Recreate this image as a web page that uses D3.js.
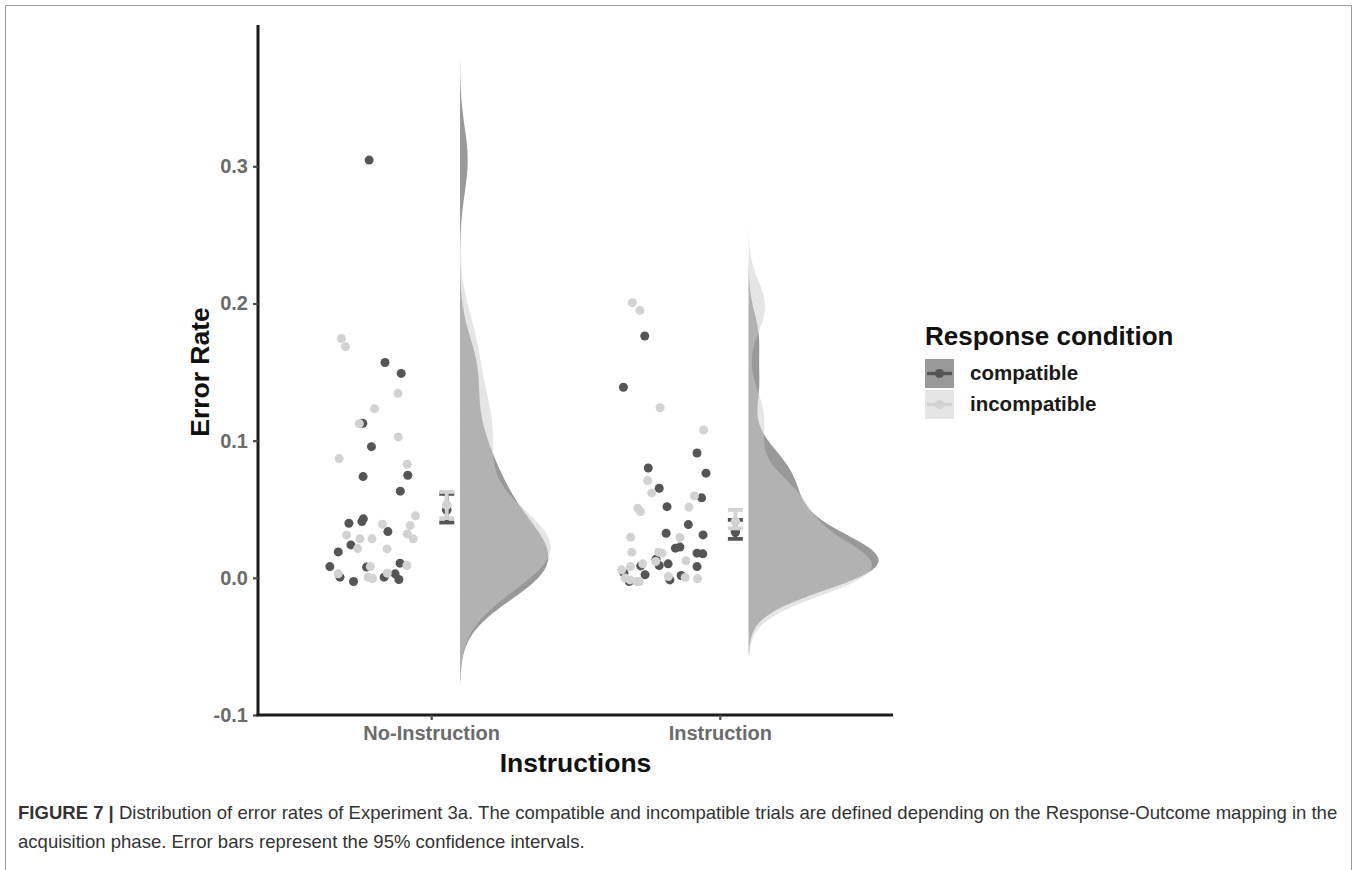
<!DOCTYPE html>
<html>
<head>
<meta charset="utf-8">
<script src="https://cdn.jsdelivr.net/npm/d3@7/dist/d3.min.js"></script>
<style>
  html, body { margin: 0; padding: 0; background: #fff; }
  svg { display: block; font-family: "Liberation Sans", Arial, sans-serif; }
</style>
</head>
<body>
<svg id="chart" width="1357" height="870"></svg>
<script>
// ---- data -------------------------------------------------------------
const categories = ["No-Instruction", "Instruction"];
const conditions = ["compatible", "incompatible"];
const yTickValues = [-0.1, 0.0, 0.1, 0.2, 0.3];
const yTickLabels = ["-0.1", "0.0", "0.1", "0.2", "0.3"];

// individual error rates per participant (values) and horizontal jitter (category units)
const noInstrCompatible = [0.3045, 0.157, 0.149, 0.1127, 0.0956, 0.0738, 0.0748, 0.0632, 0.0398, 0.041, 0.043,
  0.0337, 0.024, 0.0189, 0.0082, 0.0005, -0.0027, 0.0078, 0.0005, 0.0029, -0.0012, 0.0107];
const noInstrCompatibleJitter = [-0.215, -0.160, -0.104, -0.237, -0.207, -0.236, -0.081, -0.107, -0.285, -0.240, -0.235,
  -0.150, -0.278, -0.322, -0.351, -0.316, -0.269, -0.224, -0.163, -0.125, -0.112, -0.108];

const noInstrIncompatible = [0.1745, 0.1685, 0.1345, 0.1233, 0.1124, 0.1027, 0.0869, 0.0828, 0.0391, 0.0452, 0.0381,
  0.032, 0.0284, 0.0311, 0.0284, 0.0284, 0.0213, 0.0211, 0.0029, 0.0082, 0.0005, -0.0005, 0.0034, 0.009];
const noInstrIncompatibleJitter = [-0.311, -0.297, -0.115, -0.196, -0.249, -0.114, -0.319, -0.083, -0.169, -0.054, -0.073,
  -0.083, -0.062, -0.293, -0.247, -0.205, -0.255, -0.153, -0.322, -0.211, -0.218, -0.203, -0.152, -0.084];

const instrCompatible = [0.1763, 0.1389, 0.091, 0.0801, 0.0763, 0.0653, 0.0583, 0.0519, 0.0388, 0.0325, 0.0313,
  0.0216, 0.0224, 0.018, 0.0175, 0.0136, 0.009, 0.0102, 0.0082, 0.0087, 0.0034, 0.0022, -0.0027, -0.0015, 0.0017];
const instrCompatibleJitter = [-0.260, -0.334, -0.079, -0.248, -0.048, -0.210, -0.063, -0.183, -0.109, -0.186, -0.058,
  -0.154, -0.138, -0.079, -0.059, -0.221, -0.210, -0.179, -0.079, -0.274, -0.332, -0.259, -0.314, -0.173, -0.134];

const instrIncompatible = [0.2005, 0.195, 0.124, 0.1078, 0.0709, 0.0619, 0.0597, 0.0515, 0.0508, 0.0483, 0.0296,
  0.0294, 0.0187, 0.0187, 0.018, 0.0124, 0.0119, 0.0102, 0.0082, 0.0058, -0.0002, -0.0015, -0.0027, -0.0027,
  0.001, 0.0002, -0.0007];
const instrIncompatibleJitter = [-0.303, -0.277, -0.207, -0.056, -0.250, -0.236, -0.088, -0.107, -0.284, -0.275, -0.309,
  -0.138, -0.305, -0.212, -0.200, -0.117, -0.222, -0.267, -0.310, -0.340, -0.328, -0.311, -0.288, -0.279,
  -0.178, -0.120, -0.077];

// group means with 95% confidence limits: [No-Instruction, Instruction]
const compatibleMean  = [0.0495, 0.0335];
const compatibleLower = [0.0403, 0.0284];
const compatibleUpper = [0.0612, 0.0422];
const incompatibleMean  = [0.0532, 0.0410];
const incompatibleLower = [0.0435, 0.0360];
const incompatibleUpper = [0.0626, 0.0495];

// ---- styling ------------------------------------------------------------
const pointColour = { compatible: "#555555", incompatible: "#d2d2d2" };
const densityFill = { compatible: "#333333", incompatible: "#cccccc" };

// ---- layout -------------------------------------------------------------
const svg = d3.select("#chart");
const x = d3.scaleLinear().domain([0.4, 2.6]).range([258, 893]);
const y = d3.scaleLinear().domain([-0.1, 0.403]).range([715, 25]);

// figure frame
svg.append("path")
  .attr("d", "M5.5,880 V5.5 H1351.5 V880")
  .attr("fill", "none").attr("stroke", "#9a9a9a").attr("stroke-width", 1);

const groups = [
  { cat: 0, cond: "compatible",   vals: noInstrCompatible,   jit: noInstrCompatibleJitter },
  { cat: 0, cond: "incompatible", vals: noInstrIncompatible, jit: noInstrIncompatibleJitter },
  { cat: 1, cond: "compatible",   vals: instrCompatible,     jit: instrCompatibleJitter },
  { cat: 1, cond: "incompatible", vals: instrIncompatible,   jit: instrIncompatibleJitter }
];

// ---- half-violin densities (gaussian kernel, Silverman bandwidth) -------
function bwNrd0(v) {
  const s = d3.sort(v);
  const sd = d3.deviation(s);
  const iqr = d3.quantileSorted(s, 0.75) - d3.quantileSorted(s, 0.25);
  let lo = Math.min(sd, iqr / 1.34);
  if (!(lo > 0)) lo = sd || 1;
  return 0.9 * lo * Math.pow(s.length, -0.2);
}
function kde(v, bw) {
  const lo = d3.min(v) - 3 * bw, hi = d3.max(v) + 3 * bw, n = 512;
  const k = 1 / (v.length * bw * Math.sqrt(2 * Math.PI));
  return d3.range(n).map(i => {
    const t = lo + (hi - lo) * i / (n - 1);
    let s = 0;
    for (const xi of v) { const u = (t - xi) / bw; s += Math.exp(-0.5 * u * u); }
    return { t, d: s * k };
  });
}
groups.forEach(g => { g.density = kde(g.vals, bwNrd0(g.vals)); });
const maxDensity = d3.max(groups, g => d3.max(g.density, p => p.d));
const violinNudge = 0.1, violinMaxWidth = 0.45;
const w = d3.scaleLinear().domain([0, maxDensity]).range([0, violinMaxWidth]);

const area = d3.area()
  .y(p => y(p.t));
const plot = svg.append("g");
["compatible", "incompatible"].forEach(cond => {
  groups.filter(g => g.cond === cond).forEach(g => {
    const base = g.cat + 1 + violinNudge;
    plot.append("path")
      .datum(g.density)
      .attr("d", area.x0(() => x(base)).x1(p => x(base + w(p.d))))
      .attr("fill", densityFill[cond]).attr("fill-opacity", 0.5);
  });
});

// ---- jittered points ---------------------------------------------------
["compatible", "incompatible"].forEach(cond => {
  groups.filter(g => g.cond === cond).forEach(g => {
    plot.append("g").selectAll("circle")
      .data(g.vals.map((v, i) => ({ v, j: g.jit[i] })))
      .join("circle")
      .attr("cx", d => x(g.cat + 1 + d.j))
      .attr("cy", d => y(d.v))
      .attr("r", 4.5)
      .attr("fill", pointColour[cond]);
  });
});

// ---- means with confidence intervals ------------------------------------
const summaries = [
  { cond: "compatible",   mean: compatibleMean,   lower: compatibleLower,   upper: compatibleUpper },
  { cond: "incompatible", mean: incompatibleMean, lower: incompatibleLower, upper: incompatibleUpper }
];
const ebOffset = 0.054, capHalf = 0.026;
summaries.forEach(s => {
  const col = pointColour[s.cond];
  categories.forEach((c, i) => {
    const cx = i + 1 + ebOffset;
    const gE = plot.append("g").attr("stroke", col).attr("stroke-width", 3.8);
    gE.append("line").attr("x1", x(cx)).attr("x2", x(cx)).attr("y1", y(s.lower[i])).attr("y2", y(s.upper[i]));
    gE.append("line").attr("x1", x(cx - capHalf)).attr("x2", x(cx + capHalf)).attr("y1", y(s.lower[i])).attr("y2", y(s.lower[i]));
    gE.append("line").attr("x1", x(cx - capHalf)).attr("x2", x(cx + capHalf)).attr("y1", y(s.upper[i])).attr("y2", y(s.upper[i]));
    plot.append("circle").attr("cx", x(cx)).attr("cy", y(s.mean[i])).attr("r", 4.8).attr("fill", col);
  });
});

// ---- axes ---------------------------------------------------------------
const yAxis = svg.append("g").attr("transform", "translate(258,0)")
  .call(d3.axisLeft(y).tickValues(yTickValues).tickFormat((d, i) => yTickLabels[i]).tickSizeOuter(0).tickSize(5).tickPadding(5));
const xAxis = svg.append("g").attr("transform", "translate(0,715)")
  .call(d3.axisBottom(x).tickValues([1, 2]).tickFormat((d, i) => categories[i]).tickSizeOuter(0).tickSize(5).tickPadding(6));
[yAxis, xAxis].forEach(a => {
  a.select(".domain").attr("stroke", "#1a1a1a").attr("stroke-width", 3);
  a.selectAll(".tick line").attr("stroke", "#4d4d4d").attr("stroke-width", 2.2);
  a.selectAll(".tick text").attr("fill", "#6b6b6b").attr("font-size", 20).attr("font-weight", "bold")
    .attr("font-family", "Liberation Sans, Arial, sans-serif");
});
yAxis.select(".domain").attr("d", "M0,715V25");
xAxis.select(".domain").attr("d", "M256.5,0H893");

svg.append("text")
  .attr("transform", "translate(209,372) rotate(-90)")
  .attr("text-anchor", "middle").attr("font-size", 26.5).attr("font-weight", "bold").attr("fill", "#111")
  .text("Error Rate");
svg.append("text")
  .attr("x", 575.5).attr("y", 772)
  .attr("text-anchor", "middle").attr("font-size", 26.5).attr("font-weight", "bold").attr("fill", "#111")
  .text("Instructions");

// ---- legend -------------------------------------------------------------
const legend = svg.append("g").attr("transform", "translate(925,0)");
legend.append("text").attr("x", 0).attr("y", 345)
  .attr("font-size", 26).attr("font-weight", "bold").attr("fill", "#111").text("Response condition");
conditions.forEach((cond, i) => {
  const ky = 359 + i * 31;
  legend.append("rect").attr("x", 0).attr("y", ky).attr("width", 29).attr("height", 29)
    .attr("fill", densityFill[cond]).attr("fill-opacity", 0.5);
  legend.append("line").attr("x1", 2).attr("x2", 27).attr("y1", ky + 14.5).attr("y2", ky + 14.5)
    .attr("stroke", pointColour[cond]).attr("stroke-width", 3.3);
  legend.append("circle").attr("cx", 14.5).attr("cy", ky + 14.5).attr("r", 4.6).attr("fill", pointColour[cond]);
  legend.append("text").attr("x", 45).attr("y", ky + 21)
    .attr("font-size", 20.5).attr("font-weight", "bold").attr("fill", "#1a1a1a").text(cond);
});

// ---- caption ------------------------------------------------------------
const cap1 = svg.append("text").attr("x", 18).attr("y", 819).attr("font-size", 17).attr("fill", "#333");
cap1.append("tspan").attr("font-weight", "bold").text("FIGURE 7 | ");
cap1.append("tspan").text("Distribution of error rates of Experiment 3a. The compatible and incompatible trials are defined depending on the Response-Outcome mapping in the");
const cap2 = svg.append("text").attr("x", 18).attr("y", 848).attr("font-size", 17).attr("fill", "#333")
  .text("acquisition phase. Error bars represent the 95% confidence intervals.");
// fit the first caption line to the text block width
const targetWidth = 1320;
const measured = cap1.node().getComputedTextLength();
const fs = 17 * targetWidth / measured;
cap1.attr("font-size", fs);
cap2.attr("font-size", fs);
</script>
</body>
</html>
